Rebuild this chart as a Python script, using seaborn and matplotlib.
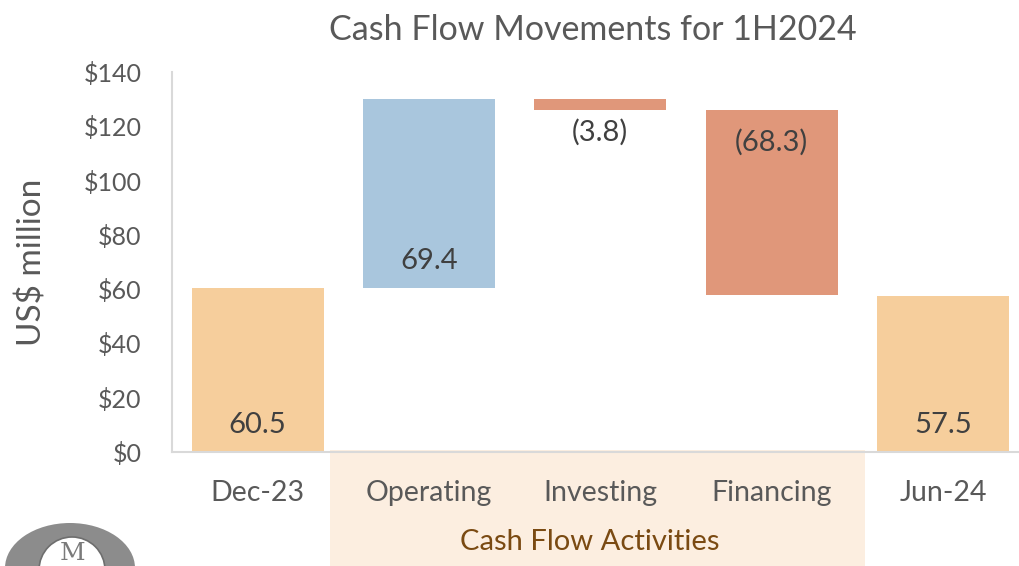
import matplotlib
matplotlib.use("Agg")
import matplotlib.pyplot as plt
from matplotlib.patches import Rectangle, Ellipse
import seaborn as sns
import pandas as pd

# ---- data ----
categories = ["Dec-23", "Operating", "Investing", "Financing", "Jun-24"]
values = [60.5, 69.4, -3.8, -68.3, 57.5]
is_total = [True, False, False, False, True]
value_labels = ["60.5", "69.4", "(3.8)", "(68.3)", "57.5"]
yticks = [0, 20, 40, 60, 80, 100, 120, 140]
group_label = "Cash Flow Activities"
title = "Cash Flow Movements for 1H2024"
ylabel = "US$ million"

# ---- waterfall geometry from data ----
bottoms, heights = [], []
running = 0.0
for v, tot in zip(values, is_total):
    if tot:
        bottoms.append(0.0)
        heights.append(v)
        running = v
    else:
        if v >= 0:
            bottoms.append(running)
            heights.append(v)
        else:
            bottoms.append(running + v)
            heights.append(-v)
        running += v

C_TOTAL = "#F6CE9C"
C_POS = "#A9C6DD"
C_NEG = "#E0977A"
colors = [C_TOTAL if t else (C_POS if v >= 0 else C_NEG) for v, t in zip(values, is_total)]

sns.set_theme(style="white")
FONT = ["Lato", "DejaVu Sans"]
plt.rcParams["font.family"] = FONT

fig = plt.figure(figsize=(10.2, 5.66), dpi=100)
W, H = 1020, 566

# shaded band behind activity categories
fig.patches.append(Rectangle((330 / W, 0), (865 - 330) / W, (566 - 450) / H,
                             transform=fig.transFigure, facecolor="#FCEEE0",
                             edgecolor="none", zorder=-5))

ax = fig.add_axes([172 / W, (H - 452) / H, (W - 172) / W, (452 - 72) / H])
ax.set_facecolor("none")

df = pd.DataFrame({"cat": categories, "h": heights, "b": bottoms})
sns.barplot(data=df, x="cat", y="h", color=C_TOTAL, width=0.77,
            bottom=df["b"].values, saturation=1, ax=ax)
for p, c in zip(ax.patches, colors):
    p.set_facecolor(c)
    p.set_edgecolor("none")

ax.set_ylim(0, 140)
ax.set_xlim(-0.5, 4.45)
ax.set_yticks(yticks)
ax.set_yticklabels([f"${t}" for t in yticks], fontsize=18, color="#595959")
ax.tick_params(axis="y", length=0, pad=22)
ax.tick_params(axis="x", length=0, pad=20)
ax.set_xticks(range(len(categories)))
ax.set_xticklabels(categories, fontsize=20.5, color="#595959")
ax.set_xlabel("")
ax.set_ylabel(ylabel, fontsize=24, color="#595959", labelpad=26)

for s in ["top", "right"]:
    ax.spines[s].set_visible(False)
for s in ["left", "bottom"]:
    ax.spines[s].set_color("#D9D9D9")
    ax.spines[s].set_linewidth(1.5)

# value labels
for i, (v, b, h, lab) in enumerate(zip(values, bottoms, heights, value_labels)):
    if v >= 0:
        ax.annotate(lab, (i, b), xytext=(0, 10), textcoords="offset points",
                    ha="center", va="bottom", fontsize=21, color="#404040")
    else:
        ax.annotate(lab, (i, b + h), xytext=(0, -14), textcoords="offset points",
                    ha="center", va="top", fontsize=21, color="#404040")

fig.text(593 / W, 1 - 30 / H, title, ha="center", va="center",
         fontsize=24.5, color="#595959")
fig.text(590 / W, 1 - 542 / H, group_label, ha="center", va="center",
         fontsize=21, color="#7A4A12")

# logo (partial, bottom-left)
fig.patches.append(Ellipse((70 / W, -2 / H), 130 / W, 90 / H, transform=fig.transFigure,
                           facecolor="#8C8C8C", edgecolor="none", zorder=1))
fig.patches.append(Ellipse((72 / W, -4 / H), 66 / W, 66 / H, transform=fig.transFigure,
                           facecolor="white", edgecolor="#6E6E6E", linewidth=1.2, zorder=2))
fig.text(73 / W, 1 - 554 / H, "M", ha="center", va="center", fontsize=18,
         color="#7A7A7A", family="DejaVu Serif", zorder=3)

fig.savefig("out.png", dpi=100)
